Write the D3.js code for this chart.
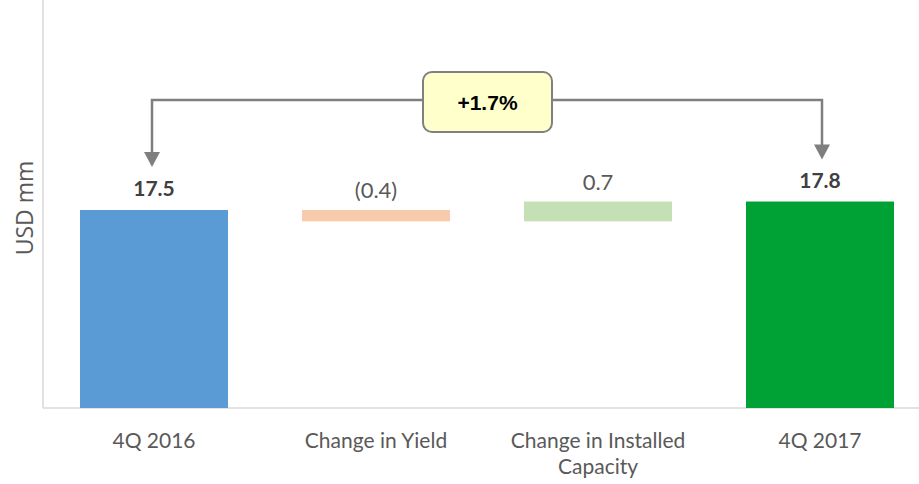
<!DOCTYPE html>
<html><head><meta charset="utf-8">
<script src="https://cdn.jsdelivr.net/npm/d3@7"></script>
<style>body{margin:0;background:#fff;} svg{display:block;}</style>
</head><body>
<svg id="c" width="919" height="484"></svg>
<script>
const categories = ["4Q 2016", "Change in Yield", "Change in Installed Capacity", "4Q 2017"];
const values = [17.5, -0.4, 0.7, 17.8];
const kinds = ["total", "delta", "delta", "total"];
const labels = ["17.5", "(0.4)", "0.7", "17.8"];
const colors = ["#5b9bd5", "#f8cbad", "#c5e0b4", "#00a235"];
const changeLabel = "+1.7%";
const axisTitle = "USD mm";

const svg = d3.select("#c");
const x = d3.scaleBand().domain(categories).range([43, 931]).paddingInner(1/3).paddingOuter(1/6);
const y = d3.scaleLinear().domain([10.5, 24.5]).range([408, 12]);

// compute waterfall segments
let run = 0;
const segs = categories.map((c, i) => {
  let lo, hi;
  if (kinds[i] === "total") { lo = y.domain()[0]; hi = values[i]; run = values[i]; }
  else { const s = run, e = run + values[i]; lo = Math.min(s, e); hi = Math.max(s, e); run = e; }
  return {c, lo, hi, i};
});

// axes lines
svg.append("line").attr("x1", 43).attr("x2", 43).attr("y1", 0).attr("y2", 408)
  .attr("stroke", "#d9d9d9").attr("stroke-width", 1.5);
const xAxis = svg.append("g").attr("transform", "translate(0,408)")
  .call(d3.axisBottom(x).tickSize(0).tickFormat(""));
xAxis.select(".domain").attr("stroke", "#d9d9d9").attr("stroke-width", 1.5).attr("d", "M43,0H919");

svg.selectAll("rect.bar").data(segs).join("rect").attr("class", "bar")
  .attr("x", d => x(d.c)).attr("width", x.bandwidth())
  .attr("y", d => y(d.hi)).attr("height", d => y(d.lo) - y(d.hi))
  .attr("fill", d => colors[d.i]);

// data labels
svg.selectAll("text.dl").data(segs).join("text").attr("class", "dl")
  .attr("x", d => x(d.c) + x.bandwidth() / 2)
  .attr("y", d => y(d.hi) - (kinds[d.i] === "total" ? 14 : 12))
  .attr("text-anchor", "middle")
  .attr("font-family", "Lato, sans-serif")
  .attr("font-size", d => kinds[d.i] === "total" ? 21 : 22)
  .attr("font-weight", d => kinds[d.i] === "total" ? 700 : 400)
  .attr("fill", d => kinds[d.i] === "total" ? "#404040" : "#595959")
  .text(d => labels[d.i]);

// category labels with wrapping
const wrapLines = {"Change in Installed Capacity": ["Change in Installed", "Capacity"]};
categories.forEach(c => {
  const lines = wrapLines[c] || [c];
  const t = svg.append("text").attr("x", x(c) + x.bandwidth() / 2).attr("y", 448)
    .attr("text-anchor", "middle").attr("font-family", "Lato, sans-serif")
    .attr("font-size", 21).attr("fill", "#595959");
  lines.forEach((l, k) => t.append("tspan").attr("x", x(c) + x.bandwidth() / 2).attr("dy", k ? 26 : 0).text(l));
});

// axis title
svg.append("text").attr("transform", "translate(33,208) rotate(-90)")
  .attr("text-anchor", "middle").attr("font-family", "'Open Sans', sans-serif")
  .attr("font-size", 23).attr("fill", "#595959").text(axisTitle);

// bracket
const xl = x(categories[0]) + x.bandwidth() / 2 - 2;
const xr = x(categories[3]) + x.bandwidth() / 2 + 2;
const yb = 100;
const tipL = y(values[0]) - 43, tipR = y(values[3]) - 42;
svg.append("path").attr("d", `M${xl},${tipL - 14}V${yb}H${xr}V${tipR - 14}`)
  .attr("fill", "none").attr("stroke", "#7f7f7f").attr("stroke-width", 2.5);
[[xl, tipL], [xr, tipR]].forEach(([ax, ay]) => {
  svg.append("path").attr("d", `M${ax - 8},${ay - 15}L${ax + 8},${ay - 15}L${ax},${ay}Z`).attr("fill", "#7f7f7f");
});
const bx = 423, bw = 129, by = 72, bh = 60;
svg.append("rect").attr("x", bx).attr("y", by).attr("width", bw).attr("height", bh)
  .attr("rx", 9).attr("fill", "#ffffcc").attr("stroke", "#808080").attr("stroke-width", 2);
svg.append("text").attr("x", bx + bw / 2).attr("y", 110).attr("text-anchor", "middle")
  .attr("font-family", "'Liberation Sans', Arial, sans-serif").attr("font-weight", 700)
  .attr("font-size", 21).attr("fill", "#000").text(changeLabel);
</script>
</body></html>
